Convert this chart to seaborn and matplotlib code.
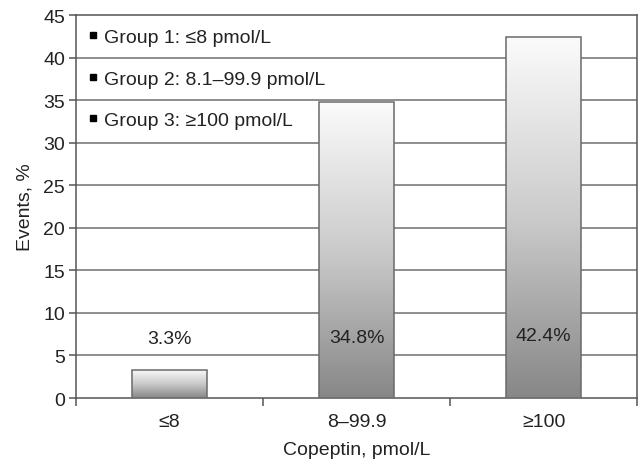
import numpy as np
import pandas as pd
import matplotlib
matplotlib.use("Agg")
import matplotlib.pyplot as plt
from matplotlib.lines import Line2D
from matplotlib.colors import LinearSegmentedColormap
import seaborn as sns

categories = ["≤8", "8–99.9", "≥100"]
events_pct = [3.3, 34.8, 42.4]
value_labels = ["3.3%", "34.8%", "42.4%"]
legend_labels = ["Group 1: ≤8 pmol/L", "Group 2: 8.1–99.9 pmol/L", "Group 3: ≥100 pmol/L"]
y_ticks = [0, 5, 10, 15, 20, 25, 30, 35, 40, 45]

sns.set_theme(style="white")
plt.rcParams["font.family"] = ["Liberation Sans", "DejaVu Sans"]

FS = 14
TXT = "#222222"

df = pd.DataFrame({"Copeptin": categories, "Events": events_pct})

fig = plt.figure(figsize=(6.39, 4.64), dpi=100)
ax = fig.add_axes([0.119, 0.140, 0.878, 0.8255])

sns.barplot(data=df, x="Copeptin", y="Events", ax=ax, width=0.4,
            color="white", edgecolor="#6a6a6a", linewidth=1.1, zorder=3)

ax.set_xlim(-0.5, 2.5)
ax.set_ylim(0, 45)
ax.set_yticks(y_ticks)

# horizontal gridlines
for t in y_ticks[1:-1]:
    ax.axhline(t, color="#7a7a7a", lw=1.2, zorder=1)

# vertical gradient fill (light at the top, grey at the base) inside each bar
grad = LinearSegmentedColormap.from_list("barfade", ["#878787", "#cbcbcb", "#fbfbfb"])
g = np.linspace(0, 1, 256).reshape(-1, 1)
for patch in ax.patches:
    x0, y0 = patch.get_x(), patch.get_y()
    w, h = patch.get_width(), patch.get_height()
    im = ax.imshow(g, cmap=grad, origin="lower", aspect="auto",
                   extent=[x0, x0 + w, y0, y0 + h], zorder=3.5)
    im.set_clip_path(patch)
    patch.set_facecolor("none")
    patch.set_zorder(4)
ax.set_xlim(-0.5, 2.5)
ax.set_ylim(0, 45)

# value labels
label_y = [7.0, 7.1, 7.4]
for i, (lab, yy) in enumerate(zip(value_labels, label_y)):
    ax.text(i, yy, lab, ha="center", va="center", fontsize=FS,
            color=TXT, zorder=6)

# spines and ticks
for s in ax.spines.values():
    s.set_visible(True)
    s.set_color("#555555")
    s.set_linewidth(1.1)

ax.set_xticks([0, 1, 2])
ax.set_xticklabels(categories)
ax.set_xticks([-0.5, 0.5, 1.5, 2.5], minor=True)
ax.tick_params(axis="x", which="major", length=0, pad=11, labelsize=FS, colors=TXT)
ax.tick_params(axis="x", which="minor", length=6, width=1.1, color="#555555", direction="out", bottom=True)
ax.tick_params(axis="y", length=5, width=1.1, color="#555555", direction="out", left=True,
               labelsize=FS, labelcolor=TXT, pad=3)

ax.set_xlabel("Copeptin, pmol/L", fontsize=FS, color=TXT, labelpad=8)
ax.set_ylabel("Events, %", fontsize=FS, color=TXT, labelpad=7)

handles = [Line2D([], [], marker="s", color="black", linestyle="none", markersize=4.5)
           for _ in legend_labels]
ax.legend(handles, legend_labels, loc="upper left", bbox_to_anchor=(0.0, 0.995),
          frameon=False, fontsize=FS, handlelength=0.5, handletextpad=0.35,
          labelspacing=1.22, borderaxespad=0.2, labelcolor=TXT)

fig.savefig("out.png", dpi=100)
